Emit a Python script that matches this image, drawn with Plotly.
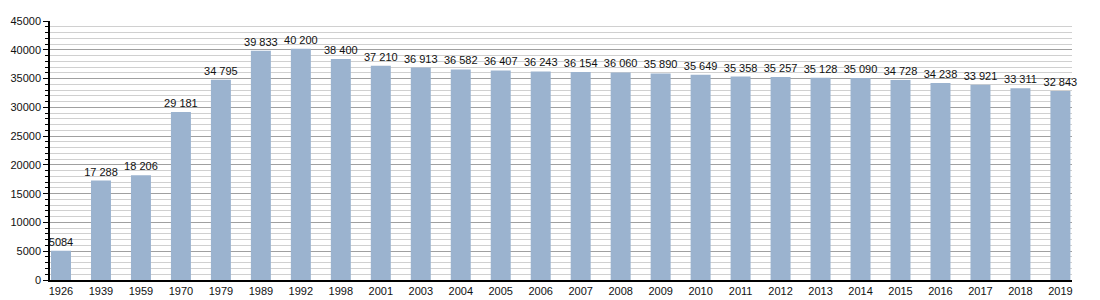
import plotly.graph_objects as go

years = ["1926", "1939", "1959", "1970", "1979", "1989", "1992", "1998", "2001", "2003",
         "2004", "2005", "2006", "2007", "2008", "2009", "2010", "2011", "2012", "2013",
         "2014", "2015", "2016", "2017", "2018", "2019"]
population = [5084, 17288, 18206, 29181, 34795, 39833, 40200, 38400, 37210, 36913,
              36582, 36407, 36243, 36154, 36060, 35890, 35649, 35358, 35257, 35128,
              35090, 34728, 34238, 33921, 33311, 32843]
y_ticks = [0, 5000, 10000, 15000, 20000, 25000, 30000, 35000, 40000, 45000]


def fmt(v):
    if v >= 10000:
        return f"{v:,}".replace(",", " ")
    return str(v)


labels = [fmt(v) for v in population]
n = len(years)

fig = go.Figure(go.Bar(
    x=years, y=population,
    text=labels, textposition="outside", constraintext="none",
    textfont=dict(family="Liberation Sans, Arial, sans-serif", size=11, color="#111"),
    outsidetextfont=dict(family="Liberation Sans, Arial, sans-serif", size=11, color="#111"),
    marker=dict(color="#9bb3cf", line=dict(width=0)),
    cliponaxis=False,
))

fig.update_layout(
    width=1100, height=300,
    margin=dict(l=50, r=28, t=21, b=20, autoexpand=False),
    paper_bgcolor="white", plot_bgcolor="white",
    bargap=0.5,
    showlegend=False,
    font=dict(family="Liberation Sans, Arial, sans-serif", size=11, color="#111"),
)

fig.update_xaxes(
    type="category",
    range=[-0.275, n - 1 + 0.29],
    automargin=False,
    showline=True, linecolor="black", linewidth=1.5,
    ticks="", showgrid=False,
    tickfont=dict(size=11, color="#111"),
)

fig.update_yaxes(
    range=[0, 45000],
    automargin=False,
    tickvals=y_ticks,
    ticktext=[str(v) for v in y_ticks],
    showline=True, linecolor="black", linewidth=1.5,
    ticks="outside", ticklen=5, tickcolor="black",
    showgrid=True, gridcolor="#a0a0a0", gridwidth=1,
    zeroline=False,
    tickfont=dict(size=11, color="#111"),
    minor=dict(dtick=1000, showgrid=True, gridcolor="#d0d0d0", gridwidth=1,
               ticks="outside", ticklen=3, tickcolor="black"),
)

fig.write_html("out.html")
